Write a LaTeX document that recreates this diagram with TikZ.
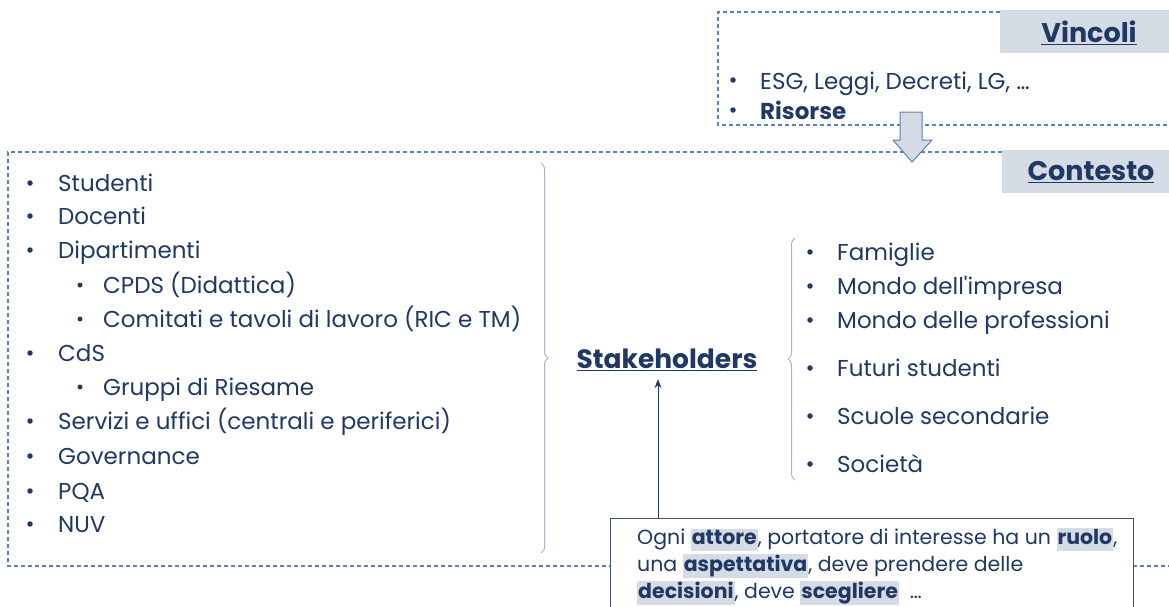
\documentclass[tikz,border=0pt]{standalone}
\usepackage{fontspec}
\setmainfont{Poppins}[Ligatures=TeXOff]
\usetikzlibrary{arrows.meta,decorations.pathreplacing,calc}
\definecolor{navy}{HTML}{203864}
\definecolor{dashc}{HTML}{5B7EBD}
\definecolor{labfill}{HTML}{D6DCE5}
\definecolor{bracec}{HTML}{A9B4C8}
\definecolor{boxline}{HTML}{44546A}
\newcommand{\hlw}[1]{{\setlength{\fboxsep}{1pt}\colorbox{labfill}{\vphantom{Ag}\textbf{#1}}}}
\tikzset{
  dashline/.style={draw=dashc, line width=1.1pt, dash pattern=on 4pt off 3pt},
  label box/.style={fill=labfill, draw=none},
  title/.style={text=navy, font=\fontsize{27}{30}\selectfont\bfseries, inner sep=0pt},
  item/.style={anchor=base west, text=navy, font=\fontsize{23}{26}\selectfont, inner sep=0pt},
  boxline/.style={anchor=base west, text=navy, font=\fontsize{20.5}{24}\selectfont, inner sep=0pt},
  dot/.style={circle, fill=navy, inner sep=0pt, minimum size=5.5pt},
  sdot/.style={circle, fill=navy, inner sep=0pt, minimum size=5pt},
  bracel/.style={draw=bracec, line width=1pt, decorate, decoration={brace, amplitude=7pt}},
  arr/.style={draw=navy, line width=1pt, -{Stealth[length=9pt,width=7pt]}}
}
\begin{document}
\begin{tikzpicture}[x=1pt,y=-1pt]
\useasboundingbox (0,0) rectangle (1169,606);
% Vincoli frame
\draw[dashline] (1000,12) -- (718,12) -- (718,125) -- (1169,125);
\fill[label box] (1000,10) rectangle (1169,53);
\node[title] (vinc) at (1089,33) {\underline{Vincoli}};
\node[dot] (vb1) at (733,80) {};
\node[item] (v1) at (760,89) {ESG, Leggi, Decreti, LG, …};
\node[dot] (vb2) at (733,110) {};
\node[item] (v2) at (760,119) {\textbf{Risorse}};
% Contesto frame
\draw[dashline] (1002,152) -- (8,152) -- (8,566) -- (610,566);
\draw[dashline] (1133,566) -- (1169,566);
\fill[label box] (1002,150) rectangle (1169,193);
\node[title] (cont) at (1091,172) {\underline{Contesto}};
% block arrow
\draw[fill=labfill, draw=dashc, line width=1pt, line join=miter]
  (900,112) -- (922,112) -- (922,140) -- (932,140) -- (912,162) -- (893,140) -- (900,140) -- cycle;
% left list
\foreach \y/\t [count=\i] in {183/Studenti,216/Docenti,250/Dipartimenti,353/CdS,421/Servizi e uffici (centrali e periferici),456/Governance,491/PQA,524/NUV}{
  \node[dot] (lb\i) at (30,\y) {};
  \node[item] (l\i) at (58,\y+8) {\t};
}
\foreach \y/\t [count=\i] in {285/CPDS (Didattica),319/Comitati e tavoli di lavoro (RIC e TM),387/Gruppi di Riesame}{
  \node[sdot] (sb\i) at (80,\y) {};
  \node[item] (s\i) at (103,\y+8) {\t};
}
% braces
\coordinate (br1a) at (541,163);
\coordinate (br1b) at (541,553);
\draw[bracel] (br1a) -- (br1b);
\coordinate (br2a) at (795,480);
\coordinate (br2b) at (795,238);
\draw[bracel] (br2a) -- (br2b);
% Stakeholders
\node[title, font=\fontsize{26.5}{30}\selectfont\bfseries] (stk) at (667,360) {\underline{Stakeholders}};
% right list
\foreach \y/\t [count=\i] in {252/Famiglie,286/Mondo dell'impresa,320/Mondo delle professioni,368/Futuri studenti,416/Scuole secondarie,464/Società}{
  \node[dot] (rb\i) at (810,\y) {};
  \node[item] (r\i) at (837,\y+8) {\t};
}
% text box
\node[draw=boxline, line width=1.2pt, fill=white, anchor=north west, minimum width=523pt, minimum height=100pt, inner sep=0pt] (box) at (610,518) {};
\node[boxline] (bt1) at (637,544) {Ogni \hlw{attore}, portatore di interesse ha un \hlw{ruolo},};
\node[boxline] (bt2) at (637,571) {una \hlw{aspettativa}, deve prendere delle};
\node[boxline] (bt3) at (637,598) {\hlw{decisioni}, deve \hlw{scegliere}\ \ …};
\coordinate (ax) at (658,0);
\draw[arr] (ax |- box.north) -- ($(ax |- stk.south)+(0,8)$);
\end{tikzpicture}
\end{document}
